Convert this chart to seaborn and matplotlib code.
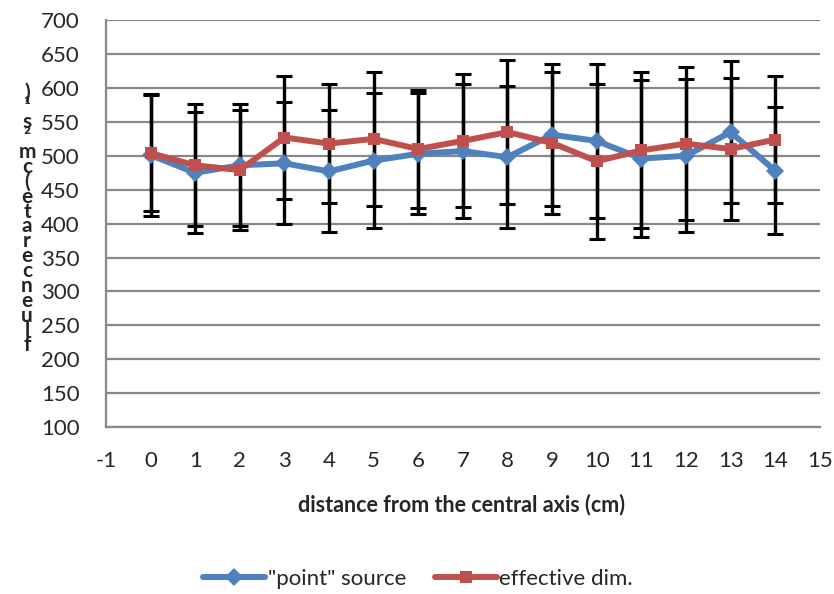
import numpy as np
import pandas as pd
import matplotlib
matplotlib.use('Agg')
import matplotlib.pyplot as plt
import seaborn as sns

# distances from the central axis (cm)
distance = [0, 1, 2, 3, 4, 5, 6, 7, 8, 9, 10, 11, 12, 13, 14]

# "point" source
point_source = [501, 475, 486, 489, 477, 493, 503, 507, 498, 531, 522, 496, 500, 535, 478]
point_err = [90, 89, 90, 90, 90, 100, 89, 99, 105, 105, 114, 116, 113, 105, 94]

# effective dim.
effective_dim = [504, 486, 479, 527, 518, 525, 510, 522, 535, 519, 492, 508, 518, 510, 524]
effective_err = [86, 90, 89, 91, 88, 99, 87, 98, 106, 105, 114, 115, 113, 105, 94]

series_names = ['"point" source', 'effective dim.']
x_ticks = list(range(-1, 16))
y_ticks = list(range(100, 701, 50))

# y label as it shows up in the original (letters stacked, read bottom-up)
ylabel_chars = list("fluencerate(cm") + ["\u00b2", "s", "\u00b9", ")"]

sns.set_style("white")
plt.rcParams['font.family'] = ['Lato', 'DejaVu Sans']
plt.rcParams['axes.unicode_minus'] = False

df = pd.DataFrame({
    "distance": distance * 2,
    "fluence": point_source + effective_dim,
    "err": point_err + effective_err,
    "series": [series_names[0]] * len(distance) + [series_names[1]] * len(distance),
})

fig = plt.figure(figsize=(8.34, 5.94), dpi=100)
ax = fig.add_axes([0.127, 0.281, 0.856, 0.685])

grid_col = '#888888'
blue = '#4F81BD'
red = '#C0504D'

# error bars first so the lines sit on top
for name in series_names:
    sub = df[df["series"] == name]
    ax.errorbar(sub["distance"], sub["fluence"], yerr=sub["err"], fmt='none',
                ecolor='black', elinewidth=2.4, capsize=5.5, capthick=2.2, zorder=2)

sns.lineplot(data=df, x="distance", y="fluence", hue="series", style="series",
             palette={series_names[0]: blue, series_names[1]: red},
             markers={series_names[0]: 'D', series_names[1]: 's'},
             dashes=False, linewidth=4.3, markersize=9, markeredgewidth=0,
             ax=ax, zorder=3, legend=True)

ax.set_xlim(-1, 15)
ax.set_ylim(100, 700)
ax.set_xticks(x_ticks)
ax.set_yticks(y_ticks)
ax.yaxis.grid(True, color=grid_col, linewidth=1.6)
ax.set_axisbelow(True)
for side in ['top', 'right']:
    ax.spines[side].set_visible(False)
for side in ['left', 'bottom']:
    ax.spines[side].set_color(grid_col)
    ax.spines[side].set_linewidth(1.6)
ax.tick_params(axis='y', length=7, width=1.6, color=grid_col, pad=12, labelsize=16)
ax.tick_params(axis='x', length=5, width=1.6, color=grid_col, pad=12, labelsize=16)
ax.set_xlabel("")
ax.set_ylabel("")

fig.text(462 / 834, 1 - 505 / 594, "distance from the central axis (cm)",
         ha='center', va='center', fontsize=15.5, fontweight='bold')

# stacked y label, one text block
fig.text(27 / 834, 1 - 219 / 594, "\n".join(reversed(ylabel_chars)),
         ha='center', va='center', multialignment='center',
         fontsize=15, fontweight='bold', linespacing=0.68)

handles, labels = ax.get_legend_handles_labels()
ax.get_legend().remove()
fig.legend(handles, labels, loc='center', bbox_to_anchor=(418 / 834, 1 - 579 / 594),
           ncol=2, frameon=False, fontsize=16, handlelength=2.8, handletextpad=0.1,
           columnspacing=1.3)

fig.savefig("out.png", dpi=100)
